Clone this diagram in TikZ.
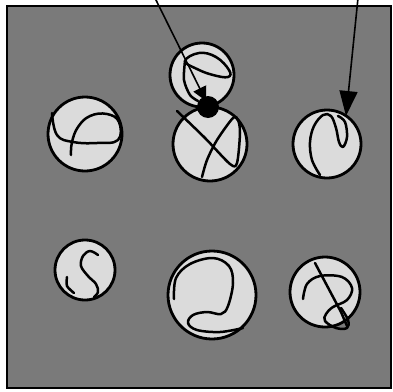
\documentclass[tikz,border=0pt]{standalone}
\usetikzlibrary{arrows.meta}
\begin{document}
\begin{tikzpicture}[x=1pt,y=-1pt,
  marble/.style={circle,draw=black,line width=2.8pt,fill=black!14,inner sep=0pt},
  strand/.style={line width=2.5pt,line cap=round,line join=round},
  pointer/.style={line width=1.6pt}]
\useasboundingbox (0,0) rectangle (393,391);
\fill[white] (0,0) rectangle (393,391);
\draw[line width=1.6pt,fill=black!52] (7,6) rectangle (391,388);
% marbles
\node[marble,minimum size=64pt] (m1) at (202,75) {};
\node[marble,minimum size=74pt] (m2) at (210,144) {};
\node[marble,minimum size=74pt] (m3) at (85,134) {};
\node[marble,minimum size=68pt] (m4) at (327,144) {};
\node[marble,minimum size=60pt] (m5) at (85,270) {};
\node[marble,minimum size=88pt] (m6) at (212,295) {};
\node[marble,minimum size=70pt] (m7) at (325,292) {};
% strands
\draw[strand] plot[smooth,tension=0.7] coordinates {(52,113) (57,135) (73,142) (97,143) (118,140) (119,122) (107,114) (90,116) (78,127) (72,142) (71,155)};
\draw[strand] plot[smooth cycle,tension=0.7] coordinates {(185,61) (199,53) (216,57) (229,70) (228,77) (213,75) (197,69)};
\draw[strand] plot[smooth] coordinates {(185,61) (184,80) (190,95) (198,101)};
\draw[strand] plot[smooth,tension=0.5] coordinates {(177,111) (205,138) (230,164) (237,163) (240,133) (238,120) (233,118) (217,140) (207,160) (202,177)};
\draw[strand] plot[smooth,tension=0.6] coordinates {(320,175) (312,160) (310,142) (314,126) (323,115) (331,116) (336,128) (339,142) (343,147) (347,137) (345,122) (338,116)};
\draw[strand] plot[smooth,tension=0.6] coordinates {(98,255) (90,251) (83,256) (81,266) (88,276) (96,284) (98,292) (94,297)};
\draw[strand] plot[smooth] coordinates {(67,277) (67,286) (74,293)};
\draw[strand] plot[smooth,tension=0.6] coordinates {(174,299) (176,278) (190,264) (213,258) (229,266) (233,283) (228,306) (221,314) (207,312) (193,315) (188,323) (197,330) (220,332) (243,328)};
\draw[strand] (315,263) -- (341,312) -- (347,326);
\draw[strand] plot[smooth,tension=0.6] coordinates {(303,299) (307,284) (320,276) (342,277) (352,288) (347,300) (333,307) (326,314) (325,321) (336,328) (347,328) (348,320) (341,308)};
% pointers
\coordinate (p1) at (155,-2);
\coordinate (p2) at (358,-2);
\coordinate (t1) at (206,101);
\coordinate (t2) at (346,116);
\draw[pointer,-{Triangle[length=14pt,width=14pt]}] (p1) -- (t1);
\fill (208,107) circle (11pt);
\draw[pointer,-{Triangle[length=25pt,width=18pt]}] (p2) -- (t2);
\end{tikzpicture}
\end{document}
